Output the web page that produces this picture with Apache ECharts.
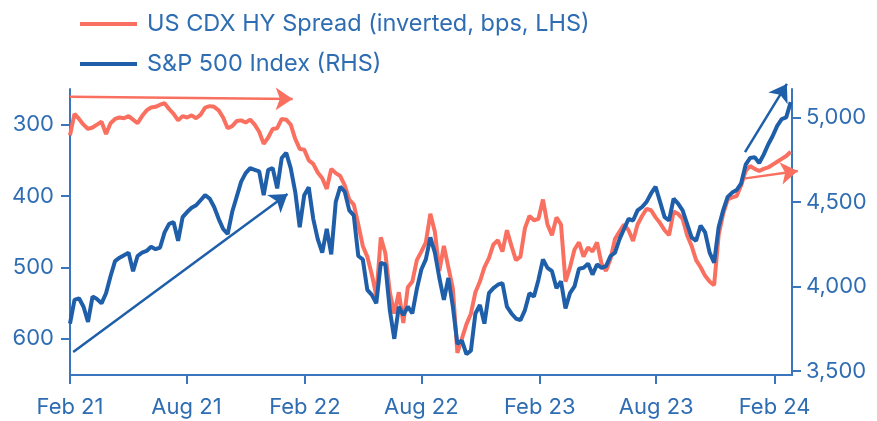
<!DOCTYPE html>
<html>
<head>
<meta charset="utf-8">
<script src="https://cdn.jsdelivr.net/npm/echarts@6/dist/echarts.min.js"></script>
<style>
  html, body { margin: 0; padding: 0; background: #fff; }
  #chart { width: 877px; height: 421px; }
</style>
</head>
<body>
<div id="chart"></div>
<script>
// weekly points, first one on 1 Feb 2021
const startDay = Date.UTC(2021, 1, 1);
const weekMs = 7 * 86400000;

// US CDX HY spread, bps (left axis, inverted)
const hySpread = [
  315, 285, 292, 300, 306, 304, 300, 296, 313, 298,
  292, 290, 291, 288, 293, 298, 288, 280, 276, 275,
  272, 270, 278, 285, 294, 288, 290, 287, 291, 286,
  276, 274, 275, 280, 290, 305, 302, 295, 294, 297,
  293, 300, 310, 327, 318, 306, 305, 292, 293, 300,
  320, 334, 335, 350, 355, 367, 375, 390, 362, 368,
  372, 385, 405, 412, 440, 470, 485, 510, 540, 458,
  480, 535, 565, 535, 578, 528, 520, 490, 478, 465,
  425, 450, 505, 470, 500, 530, 620, 600, 580, 565,
  535, 520, 500, 487, 468, 462, 478, 448, 470, 490,
  485, 445, 428, 434, 432, 405, 440, 455, 430, 440,
  520, 500, 475, 465, 485, 472, 478, 465, 495, 505,
  488, 460, 450, 440, 448, 463, 440, 428, 418, 420,
  430, 438, 448, 455, 422, 425, 432, 455, 470, 490,
  500, 512, 520, 525, 455, 425, 405, 402, 400, 385,
  365, 358, 362, 365, 362, 360, 356, 352, 348, 344,
  338
];

// S&P 500 index (right axis)
const spx = [
  3780, 3920, 3930, 3880, 3790, 3940, 3925, 3900, 3960, 4060,
  4150, 4170, 4185, 4200, 4090, 4180, 4200, 4210, 4235, 4220,
  4230, 4320, 4370, 4380, 4270, 4410, 4440, 4465, 4480, 4510,
  4540, 4520, 4470, 4400, 4340, 4310, 4440, 4530, 4620, 4670,
  4700, 4690, 4680, 4540, 4690, 4700, 4580, 4760, 4790, 4700,
  4560, 4350, 4540, 4586, 4400, 4280, 4200, 4340, 4190, 4500,
  4590, 4560, 4450, 4420, 4180, 4160, 3980, 3950, 3900, 4140,
  4130, 3860, 3690, 3880, 3830, 3880, 3840, 3985, 4100, 4160,
  4290, 4200, 4050, 3920, 4050, 3880, 3660, 3680, 3600, 3620,
  3840, 3890, 3780, 3960, 3990, 4010, 4020, 3880, 3840, 3810,
  3800, 3860, 3960, 3940, 4040, 4160, 4110, 4090, 3990, 4030,
  3870, 3960, 4000, 4105, 4110, 4135, 4070, 4130, 4110, 4120,
  4180, 4200, 4280, 4340, 4400, 4390, 4450, 4470, 4500, 4550,
  4590, 4500, 4410, 4390, 4520, 4490, 4450, 4370, 4290, 4270,
  4360, 4320, 4200, 4140, 4350, 4450, 4530, 4555, 4570, 4610,
  4720, 4760, 4765, 4730, 4780, 4840, 4890, 4950, 4990, 5000,
  5090
];

const leftTicks = [300, 400, 500, 600];
const rightTicks = [3500, 4000, 4500, 5000];
const dateTicks = ['2021-02-01', '2021-08-01', '2022-02-01', '2022-08-01',
  '2023-02-01', '2023-08-01', '2024-02-01'];
const monthNames = ['Jan','Feb','Mar','Apr','May','Jun','Jul','Aug','Sep','Oct','Nov','Dec'];

// annotation arrows [date, value] start -> end
const redArrows = [
  [['2021-02-01', 261], ['2022-01-13', 264]],
  [['2023-12-12', 376], ['2024-03-08', 365]]
];
const blueArrows = [
  [['2021-02-06', 3612], ['2022-01-05', 4547]],
  [['2023-12-17', 4795], ['2024-02-20', 5198]]
];

const ts = s => Date.parse(s + 'T00:00:00Z');
const redData = hySpread.map((v, i) => [startDay + i * weekMs, v]);
const blueData = spx.map((v, i) => [startDay + i * weekMs, v]);
const toLines = arr => arr.map(a => ({ coords: [[ts(a[0][0]), a[0][1]], [ts(a[1][0]), a[1][1]]] }));

const RED = '#fa7060';
const BLUE = '#1f5fa9';
const AXIS = '#3a76bd';
const TXT = '#2f6db3';
const FONT = 'Inter';

const chart = echarts.init(document.getElementById('chart'));
chart.setOption({
  animation: false,
  textStyle: { fontFamily: FONT },
  grid: { left: 70, right: 85, top: 89, bottom: 46, containLabel: false },
  legend: {
    orient: 'vertical',
    left: 75,
    top: 5,
    icon: 'rect',
    itemWidth: 57,
    itemHeight: 4,
    itemGap: 12,
    textStyle: { fontFamily: FONT, fontSize: 23.5, color: TXT, padding: [0, 0, 0, 5], lineHeight: 28 },
    data: ['US CDX HY Spread (inverted, bps, LHS)', 'S&P 500 Index (RHS)']
  },
  xAxis: {
    type: 'value',
    min: ts('2021-02-01'),
    max: ts('2024-02-28'),
    splitLine: { show: false },
    axisLine: { lineStyle: { color: AXIS, width: 2 } },
    axisTick: { customValues: dateTicks.map(ts), length: 9, lineStyle: { color: AXIS, width: 2 } },
    axisLabel: {
      customValues: dateTicks.map(ts),
      margin: 21,
      fontFamily: FONT, fontSize: 22, color: TXT,
      formatter: v => {
        const d = new Date(v);
        return monthNames[d.getUTCMonth()] + ' ' + String(d.getUTCFullYear()).slice(2);
      }
    }
  },
  yAxis: [
    {
      type: 'value',
      position: 'left',
      inverse: true,
      min: 250,
      max: 651,
      splitLine: { show: false },
      axisLine: { show: true, lineStyle: { color: AXIS, width: 2 } },
      axisTick: { show: true, customValues: leftTicks, length: 9, lineStyle: { color: AXIS, width: 2 } },
      axisLabel: { customValues: leftTicks, margin: 16, fontFamily: FONT, fontSize: 22, color: TXT }
    },
    {
      type: 'value',
      position: 'right',
      min: 3476,
      max: 5168,
      splitLine: { show: false },
      axisLine: { show: true, lineStyle: { color: AXIS, width: 2 } },
      axisTick: { show: true, customValues: rightTicks, length: 9, lineStyle: { color: AXIS, width: 2 } },
      axisLabel: {
        customValues: rightTicks, margin: 14, fontFamily: FONT, fontSize: 22, color: TXT,
        formatter: v => v.toLocaleString('en-US')
      }
    }
  ],
  series: [
    {
      name: 'US CDX HY Spread (inverted, bps, LHS)',
      type: 'line',
      yAxisIndex: 0,
      data: redData,
      showSymbol: false,
      symbol: 'none',
      color: RED,
      lineStyle: { color: RED, width: 4 }
    },
    {
      name: 'S&P 500 Index (RHS)',
      type: 'line',
      yAxisIndex: 1,
      data: blueData,
      showSymbol: false,
      symbol: 'none',
      color: BLUE,
      lineStyle: { color: BLUE, width: 4 }
    },
    {
      name: 'red arrows',
      type: 'lines',
      coordinateSystem: 'cartesian2d',
      yAxisIndex: 0,
      clip: false,
      silent: true,
      symbol: ['none', 'arrow'],
      symbolSize: 17,
      lineStyle: { color: RED, width: 2.5, opacity: 1 },
      data: toLines(redArrows)
    },
    {
      name: 'blue arrows',
      type: 'lines',
      coordinateSystem: 'cartesian2d',
      yAxisIndex: 1,
      clip: false,
      silent: true,
      symbol: ['none', 'arrow'],
      symbolSize: 17,
      lineStyle: { color: BLUE, width: 2.5, opacity: 1 },
      data: toLines(blueArrows)
    }
  ]
});
</script>
</body>
</html>
